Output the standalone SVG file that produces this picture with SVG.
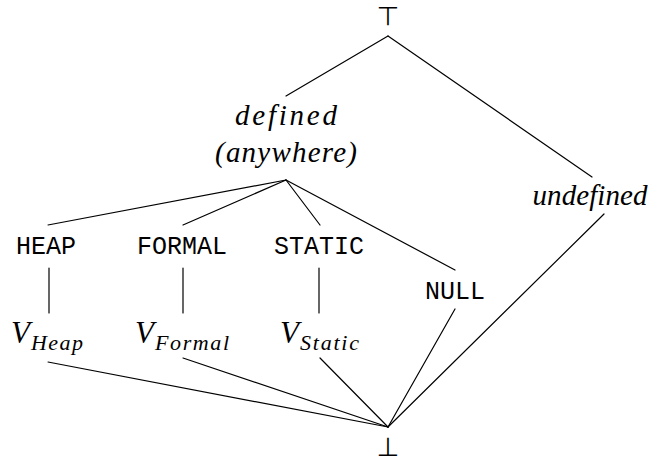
<svg xmlns="http://www.w3.org/2000/svg" width="654" height="461" viewBox="0 0 654 461">
<style>
.e{stroke:#000;stroke-width:1.2;fill:none;stroke-linecap:round}
.m{font-family:"Liberation Serif","DejaVu Serif",serif;font-style:italic;fill:#000}
.t{font-family:"Liberation Mono","DejaVu Sans Mono",monospace;font-size:25px;fill:#000;text-anchor:middle}
.s{font-family:"DejaVu Sans",sans-serif;font-size:26px;fill:#000;text-anchor:middle}
</style>
<rect width="654" height="461" fill="#fff"/>
<g id="connectors">
<line class="e" x1="388" y1="36" x2="286" y2="96"/>
<line class="e" x1="388" y1="36" x2="592" y2="177"/>
<line class="e" x1="286" y1="180" x2="48" y2="225"/>
<line class="e" x1="286" y1="180" x2="183" y2="225"/>
<line class="e" x1="286" y1="180" x2="320" y2="225"/>
<line class="e" x1="286" y1="180" x2="455" y2="270"/>
<line class="e" x1="49" y1="268" x2="49" y2="313"/>
<line class="e" x1="183" y1="268" x2="183" y2="313"/>
<line class="e" x1="319" y1="268" x2="319" y2="313"/>
<line class="e" x1="48" y1="362" x2="388" y2="427"/>
<line class="e" x1="183" y1="358" x2="388" y2="427"/>
<line class="e" x1="320" y1="358" x2="388" y2="427"/>
<line class="e" x1="455" y1="309" x2="388" y2="427"/>
<line class="e" x1="604" y1="214" x2="388" y2="427"/>
</g>
<g id="top"><text class="s" x="388" y="25">⊤</text></g>
<g id="defined">
<text class="m" x="286" y="125" font-size="29" text-anchor="middle" textLength="102" lengthAdjust="spacing">defined</text>
<text class="m" x="286" y="162" font-size="29" text-anchor="middle" textLength="142" lengthAdjust="spacing">(anywhere)</text>
</g>
<g id="undefined"><text class="m" x="590" y="205" font-size="29" text-anchor="middle" textLength="115" lengthAdjust="spacing">undefined</text></g>
<g id="heap"><text class="t" x="46" y="254" textLength="60" lengthAdjust="spacing">HEAP</text></g>
<g id="formal"><text class="t" x="182" y="254" textLength="90" lengthAdjust="spacing">FORMAL</text></g>
<g id="static"><text class="t" x="319" y="254" textLength="90" lengthAdjust="spacing">STATIC</text></g>
<g id="null"><text class="t" x="455" y="299" textLength="60" lengthAdjust="spacing">NULL</text></g>
<g id="vheap"><text class="m" font-size="31" x="11" y="343">V<tspan x="31" y="350" font-size="22" textLength="52" lengthAdjust="spacing">Heap</tspan></text></g>
<g id="vformal"><text class="m" font-size="31" x="135" y="343">V<tspan x="155" y="350" font-size="22" textLength="74" lengthAdjust="spacing">Formal</tspan></text></g>
<g id="vstatic"><text class="m" font-size="31" x="280" y="343">V<tspan x="300" y="350" font-size="22" textLength="59" lengthAdjust="spacing">Static</tspan></text></g>
<g id="bottom"><text class="s" x="388" y="456">⊥</text></g>
</svg>
